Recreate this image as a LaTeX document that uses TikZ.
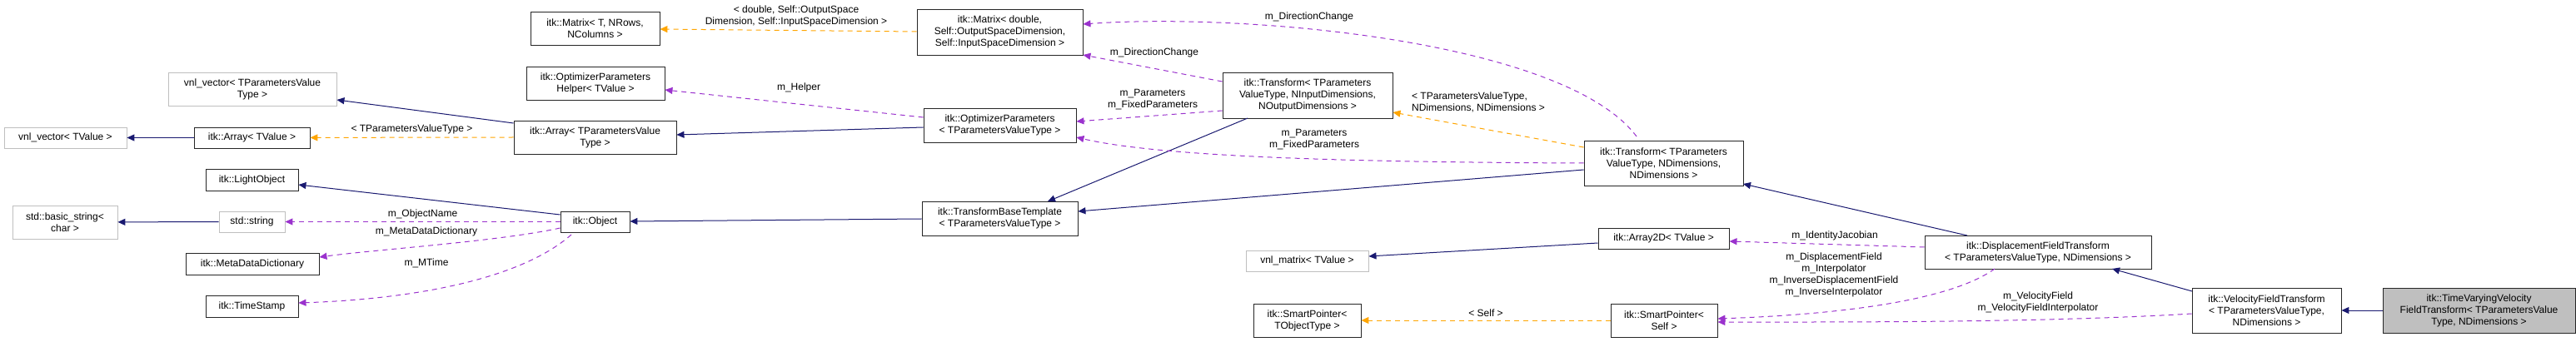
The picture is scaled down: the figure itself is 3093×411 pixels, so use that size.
\documentclass[tikz,border=0pt]{standalone}
\usepackage{fontspec}
\setmainfont{Liberation Sans}
\usetikzlibrary{arrows.meta}
\definecolor{inh}{HTML}{191970}
\definecolor{use}{HTML}{9A32CD}
\definecolor{tpl}{HTML}{FFA500}
\begin{document}
\begin{tikzpicture}[x=1pt,y=-1pt,
  every node/.style={font=\fontsize{12}{14}\selectfont},
  box/.style={draw=black!85, line width=0.9pt, fill=white, inner sep=0pt, align=center},
  ext/.style={box, draw=black!25},
  inhe/.style={draw=inh, line width=1pt, -{Triangle[length=9pt,width=8pt]}},
  usee/.style={draw=use, line width=1pt, dash pattern=on 6pt off 5pt, -{Triangle[length=9pt,width=8pt]}},
  tple/.style={draw=tpl, line width=1pt, dash pattern=on 6pt off 5pt, -{Triangle[length=9pt,width=8pt]}},
  lbl/.style={align=center, inner sep=0pt}]
\useasboundingbox (0,0) rectangle (3093,411);
% nodes
\node[box, minimum width=155, minimum height=40] (mT) at (714.5,34) {itk::Matrix< T, NRows,\\NColumns >};
\node[ext, minimum width=202, minimum height=40] (vvP) at (303,107) {vnl\_vector< TParametersValue\\Type >};
\node[ext, minimum width=147, minimum height=25] (vvT) at (78.5,165.5) {vnl\_vector< TValue >};
\node[box, minimum width=139, minimum height=25] (aT) at (302.5,165.5) {itk::Array< TValue >};
\node[box, minimum width=195, minimum height=40] (aP) at (714.5,165) {itk::Array< TParametersValue\\Type >};
\node[box, minimum width=111, minimum height=26] (lo) at (302.5,216) {itk::LightObject};
\node[ext, minimum width=126, minimum height=40] (bs) at (78,267) {std::basic\_string<\\char >};
\node[ext, minimum width=79, minimum height=25] (ss) at (302.5,266.5) {std::string};
\node[box, minimum width=160, minimum height=26] (mdd) at (303,317) {itk::MetaDataDictionary};
\node[box, minimum width=111, minimum height=26] (ts) at (302.5,368) {itk::TimeStamp};
\node[box, minimum width=83, minimum height=25] (obj) at (714.5,266.5) {itk::Object};
\node[box, minimum width=166, minimum height=40] (oph) at (715,100) {itk::OptimizerParameters\\Helper< TValue >};
\node[box, minimum width=199, minimum height=55] (md) at (1200.5,38.5) {itk::Matrix< double,\\Self::OutputSpaceDimension,\\Self::InputSpaceDimension >};
\node[box, minimum width=183, minimum height=41] (op) at (1200.5,150.5) {itk::OptimizerParameters\\< TParametersValueType >};
\node[box, minimum width=187, minimum height=41] (tbt) at (1200.5,262.5) {itk::TransformBaseTemplate\\< TParametersValueType >};
\node[box, minimum width=204, minimum height=55] (tI) at (1570,114.5) {itk::Transform< TParameters\\ValueType, NInputDimensions,\\NOutputDimensions >};
\node[ext, minimum width=147, minimum height=25] (vm) at (1569.5,313.5) {vnl\_matrix< TValue >};
\node[box, minimum width=129, minimum height=40] (spT) at (1569.5,385) {itk::SmartPointer<\\TObjectType >};
\node[box, minimum width=191, minimum height=54] (tD) at (1997.5,196) {itk::Transform< TParameters\\ValueType, NDimensions,\\NDimensions >};
\node[box, minimum width=157, minimum height=25] (a2) at (1997.5,286.5) {itk::Array2D< TValue >};
\node[box, minimum width=128, minimum height=40] (spS) at (1998,385) {itk::SmartPointer<\\Self >};
\node[box, minimum width=272, minimum height=40] (dft) at (2447,303) {itk::DisplacementFieldTransform\\< TParametersValueType, NDimensions >};
\node[box, minimum width=179, minimum height=54] (vft) at (2721.5,373) {itk::VelocityFieldTransform\\< TParametersValueType,\\NDimensions >};
\node[box, fill=black!25, minimum width=231, minimum height=54] (tv) at (2976.5,373) {itk::TimeVaryingVelocity\\FieldTransform< TParametersValue\\Type, NDimensions >};
% inheritance
\draw[inhe] (aT) -- (vvT);
\draw[inhe] (aP.west |- 0,148) -- (vvP.east |- 0,120);
\draw[inhe] (obj.west |- 0,258) -- (lo.east |- 0,222);
\draw[inhe] (ss) -- (bs);
\draw[inhe] (tbt.west |- 0,263) -- (obj.east |- 0,266);
\draw[inhe] (op.west |- 0,153) -- (aP.east |- 0,162);
\draw[inhe] (1498,142) -- (1258,242);
\draw[inhe] (tD.west |- 0,204) -- (tbt.east |- 0,254);
\draw[inhe] (a2.west |- 0,292) -- (vm.east |- 0,308);
\draw[inhe] (2362,283) -- (2093,221);
\draw[inhe] (2632,350) -- (2536,323);
\draw[inhe] (tv) -- (vft);
% usage
\draw[usee] (obj) -- node[lbl, above=3pt] {m\_ObjectName} (ss);
\draw[usee] (obj.west |- 0,274) .. controls (600,290) and (450,300) .. (mdd.east |- 0,309);
\node[lbl] (lmdd) at (512,278) {m\_MetaDataDictionary};
\draw[usee] (686,282) .. controls (620,340) and (480,360) .. (ts.east |- 0,364);
\node[lbl] (lmt) at (512,316) {m\_MTime};
\draw[usee] (op.west |- 0,141) -- (oph.east |- 0,108);
\node[lbl] (lh) at (959,105) {m\_Helper};
\draw[usee] (tI.west |- 0,133) -- (op.east |- 0,146);
\node[lbl] (lp1) at (1384,120) {m\_Parameters\\m\_FixedParameters};
\draw[usee] (tI.west |- 0,98) -- (md.east |- 0,66);
\node[lbl] (ldc1) at (1386,63) {m\_DirectionChange};
\draw[usee] (1965,164) .. controls (1880,50) and (1500,15) .. (md.east |- 0,29);
\node[lbl] (ldc2) at (1572,20) {m\_DirectionChange};
\draw[usee] (tD.west |- 0,196) .. controls (1650,195) and (1400,190) .. (op.east |- 0,165);
\node[lbl] (lp2) at (1578,168) {m\_Parameters\\m\_FixedParameters};
\draw[usee] (dft.west |- 0,297) -- (a2.east |- 0,290);
\node[lbl] (lij) at (2203,283) {m\_IdentityJacobian};
\draw[usee] (2395,323) .. controls (2330,370) and (2150,380) .. (spS.east |- 0,383);
\node[lbl] (ldf) at (2202,330) {m\_DisplacementField\\m\_Interpolator\\m\_InverseDisplacementField\\m\_InverseInterpolator};
\draw[usee] (vft.west |- 0,377) .. controls (2450,388) and (2200,387) .. (spS.east |- 0,387);
\node[lbl] (lvf) at (2447,363) {m\_VelocityField\\m\_VelocityFieldInterpolator};
% template
\draw[tple] (aP.west |- 0,165) -- node[lbl, above=4pt] {< TParametersValueType >} (aT);
\draw[tple] (md.west |- 0,38) -- (mT.east |- 0,35);
\node[lbl] (lmd) at (956,19) {< double, Self::OutputSpace\\Dimension, Self::InputSpaceDimension >};
\draw[tple] (tD.west |- 0,177) -- (tI.east |- 0,135);
\node[lbl, align=left] (ltd) at (1775,123) {< TParametersValueType,\\NDimensions, NDimensions >};
\draw[tple] (spS) -- node[lbl, above=4pt] {< Self >} (spT);
\end{tikzpicture}
\end{document}
